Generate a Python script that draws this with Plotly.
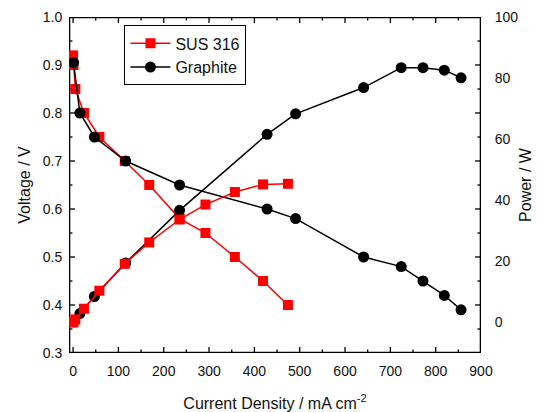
import plotly.graph_objects as go

# Polarization data: current density (mA cm^-2), cell voltage (V), power (W)
sus_current = [0, 1, 5, 24, 58, 114, 168, 235, 292, 357, 419, 474]
sus_voltage = [0.92, 0.90, 0.85, 0.80, 0.75, 0.70, 0.65, 0.58, 0.55, 0.50, 0.45, 0.40]
sus_power = [0.0, 0.2, 1.0, 4.5, 10.4, 19.2, 26.2, 33.7, 38.6, 42.7, 45.2, 45.4]

gr_current = [1, 15, 47, 116, 235, 428, 491, 641, 724, 772, 819, 856]
gr_voltage = [0.905, 0.80, 0.75, 0.70, 0.65, 0.60, 0.58, 0.50, 0.48, 0.45, 0.42, 0.39]
gr_power = [0.2, 2.9, 8.5, 19.5, 36.7, 61.6, 68.3, 76.9, 83.4, 83.4, 82.6, 80.1]

# Axis ranges and tick positions
X_RANGE = [-9, 900]
V_RANGE = [0.3, 1.0]
P_RANGE = [-10, 100]
x_major = [0, 100, 200, 300, 400, 500, 600, 700, 800, 900]
x_minor = [50, 150, 250, 350, 450, 550, 650, 750, 850]
v_major = [0.3, 0.4, 0.5, 0.6, 0.7, 0.8, 0.9, 1.0]
v_minor = [0.35, 0.45, 0.55, 0.65, 0.75, 0.85, 0.95]

RED = "#FF0000"
BLACK = "#000000"
FONT = "Arial, Liberation Sans, sans-serif"

# Figure geometry (px)
W, H = 541, 412
M_L, M_R, M_T, M_B = 68.5, 60, 16.5, 58.5
PLOT_W = W - M_L - M_R
PLOT_H = H - M_T - M_B
MAJOR_LEN, MINOR_LEN = 6, 3.5

# pixel -> data unit conversion for tick lengths
x_per_px = (X_RANGE[1] - X_RANGE[0]) / PLOT_W
v_per_px = (V_RANGE[1] - V_RANGE[0]) / PLOT_H

sq = dict(symbol="square", size=10, color=RED)
dot = dict(symbol="circle", size=11, color=BLACK)

fig = go.Figure()

# Frame and inward ticks, drawn as plain line traces on the voltage axes
frame_x = [X_RANGE[0], X_RANGE[1], X_RANGE[1], X_RANGE[0], X_RANGE[0]]
frame_y = [V_RANGE[0], V_RANGE[0], V_RANGE[1], V_RANGE[1], V_RANGE[0]]
fig.add_trace(go.Scatter(x=frame_x, y=frame_y, mode="lines", showlegend=False, hoverinfo="skip",
                         line=dict(color=BLACK, width=2.6)))

tx, ty = [], []
for vals, ln in ((x_major, MAJOR_LEN), (x_minor, MINOR_LEN)):
    dv = ln * v_per_px
    for v in vals:
        tx += [v, v, None, v, v, None]
        ty += [V_RANGE[0], V_RANGE[0] + dv, None, V_RANGE[1], V_RANGE[1] - dv, None]
for vals, ln in ((v_major, MAJOR_LEN), (v_minor, MINOR_LEN)):
    dx = ln * x_per_px
    for v in vals:
        tx += [X_RANGE[0], X_RANGE[0] + dx, None, X_RANGE[1], X_RANGE[1] - dx, None]
        ty += [v, v, None, v, v, None]
fig.add_trace(go.Scatter(x=tx, y=ty, mode="lines", showlegend=False, hoverinfo="skip",
                         line=dict(color=BLACK, width=1.3)))

# Data series
fig.add_trace(go.Scatter(x=sus_current, y=sus_voltage, mode="lines+markers", name="SUS 316",
                         line=dict(color=RED, width=1.5), marker=sq))
fig.add_trace(go.Scatter(x=gr_current, y=gr_voltage, mode="lines+markers", name="Graphite",
                         line=dict(color=BLACK, width=1.5), marker=dot))
fig.add_trace(go.Scatter(x=gr_current, y=gr_power, mode="lines+markers", yaxis="y2", showlegend=False,
                         line=dict(color=BLACK, width=1.5), marker=dot))
fig.add_trace(go.Scatter(x=sus_current, y=sus_power, mode="lines+markers", yaxis="y2", showlegend=False,
                         line=dict(color=RED, width=1.5), marker=sq))

tick_font = dict(family=FONT, size=14, color="#111")
label_only = dict(ticks="outside", tickcolor="rgba(0,0,0,0)", showgrid=False, zeroline=False,
                  showline=False, automargin=False)

fig.update_layout(
    width=W, height=H,
    margin=dict(l=M_L, r=M_R, t=M_T, b=M_B),
    paper_bgcolor="white", plot_bgcolor="white",
    font=dict(family=FONT, size=14, color="#111"),
    xaxis=dict(range=X_RANGE, tickvals=x_major, tickfont=tick_font, ticklen=5,
               title=dict(text="Current Density / mA cm<sup>-2</sup>", font=dict(family=FONT, size=16),
                          standoff=20),
               **label_only),
    yaxis=dict(range=V_RANGE, tickvals=v_major, tickformat=".1f", tickfont=tick_font, ticklen=3,
               title=dict(text="Voltage / V", font=dict(family=FONT, size=16), standoff=8),
               **label_only),
    yaxis2=dict(range=P_RANGE, dtick=20, tick0=0, overlaying="y", side="right",
                tickfont=tick_font, ticklen=10,
                title=dict(text="Power / W", font=dict(family=FONT, size=16), standoff=2),
                **label_only),
    legend=dict(x=0.1345, y=0.975, xanchor="left", yanchor="top",
                bgcolor="white", bordercolor=BLACK, borderwidth=1, itemwidth=40,
                font=dict(family=FONT, size=16, color="#111"), tracegroupgap=0),
)

fig.write_html("out.html")
